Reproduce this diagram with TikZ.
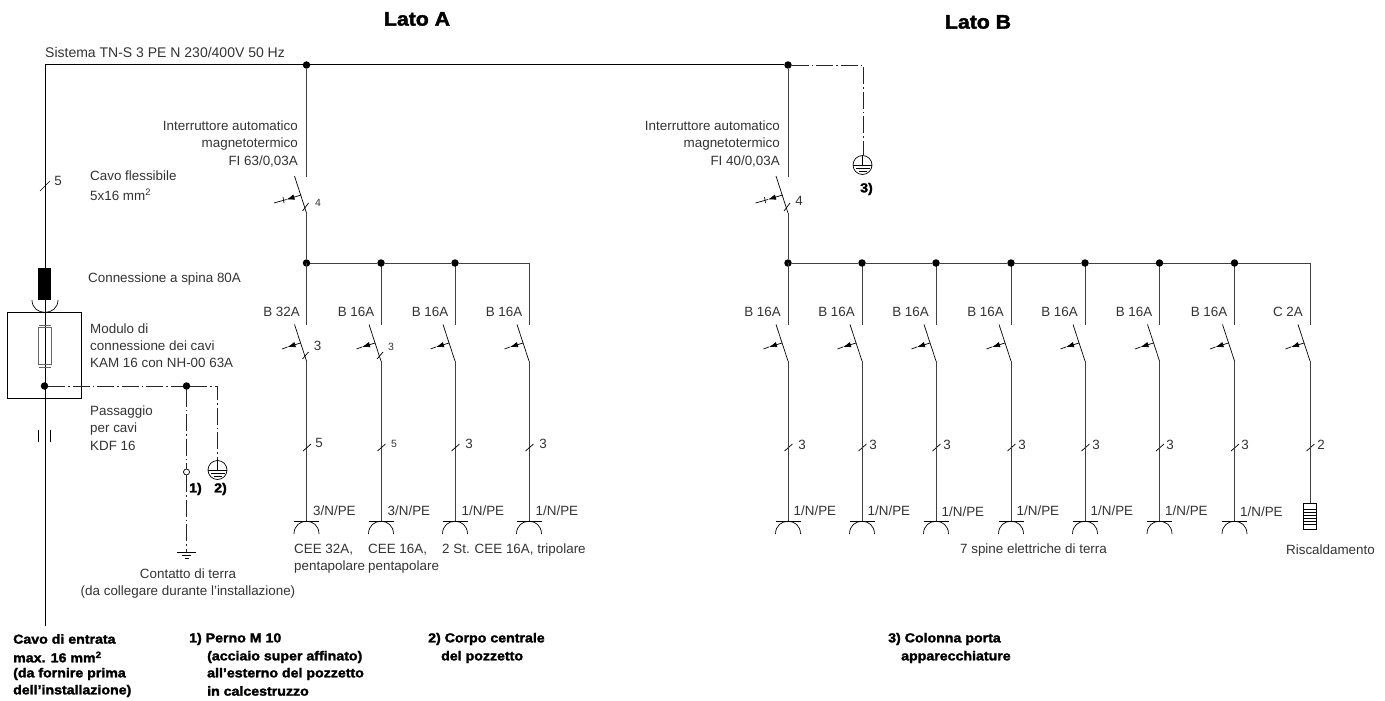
\documentclass[tikz,border=0pt]{standalone}
\usepackage{fontspec}
\setmainfont{Liberation Sans}
\newfontfamily\heavyfont[BoldFeatures={FakeBold=2,FakeStretch=1.09}]{Liberation Sans}
\usetikzlibrary{arrows.meta}
\tikzset{
    wire/.style={draw=black!75,line width=0.9pt},
    bluntwire/.style={draw=black,line width=0.7pt},
    earthwire/.style={draw=black!85,line width=0.8pt,dash pattern=on 17pt off 3pt on 1.5pt off 3pt},
    junction/.style={circle,fill=black,inner sep=0pt,minimum size=7.5pt},
    lbl/.style={inner sep=0pt,text=black!80,font=\fontsize{13.4}{16}\selectfont},
    lblleft/.style={lbl,anchor=west},
    lblright/.style={lbl,anchor=east},
    count/.style={lbl,font=\fontsize{13.4}{16}\selectfont},
    smallcount/.style={lbl,font=\fontsize{10.5}{12}\selectfont},
    note/.style={inner sep=0pt,anchor=west,font=\fontsize{13}{16}\heavyfont\bfseries},
    heading/.style={inner sep=0pt,font=\fontsize{19.5}{22}\heavyfont\bfseries},
    handletip/.style={bluntwire,-{Latex[length=8pt,width=5.5pt]}}
}
\begin{document}
\begin{tikzpicture}[x=1pt,y=-1pt]
    \useasboundingbox (0,0) rectangle (1385,701);

    % supply line
    \coordinate (inlet) at (45,65);
    \coordinate (cableend) at (45,626);
    \coordinate (earthB) at (863,65);
    \node[junction] (busA) at (306.5,65) {};
    \node[junction] (busB) at (788,65) {};
    \draw[bluntwire,line width=1pt] (inlet) -- (busA) -- (busB);
    \draw[bluntwire] (inlet) -- (cableend);
    \draw[earthwire] (busB) -- (earthB) -- (863,155);
    \draw[bluntwire] (40,191) -- (50,181); % tick on cable

    % plug, module and fuse
    \node[fill=black,minimum width=13pt,minimum height=32pt,inner sep=0pt] (plug) at (44.5,284) {};
    \draw[bluntwire] (32,300) .. controls (32,316.5) and (58,316.5) .. (58,300);
    \draw[bluntwire] (7.5,312) rectangle (81.5,398.5);
    \draw[draw=black!60,line width=0.9pt] (38.5,327) rectangle (51,364);
    \draw[draw=black!60,line width=0.9pt] (38.5,325) -- (51,325);
    \draw[draw=black!60,line width=0.9pt] (38.5,367) -- (51,367);
    \draw[bluntwire] (38.5,430) -- (38.5,442);
    \draw[bluntwire] (50.5,430) -- (50.5,442);

    % earth branches
    \node[junction] (modj) at (44.5,386) {};
    \node[junction] (earthj) at (186.5,386) {};
    \coordinate (earthc) at (217.5,386);
    \node[circle,draw=black,line width=0.7pt,fill=white,inner sep=0pt,minimum size=6pt] (perno) at (186.5,472) {};
    \coordinate (gnd) at (186.5,552);
    \draw[earthwire] (modj) -- (earthj);
    \draw[earthwire] (earthj) -- (earthc) -- (217.5,460);
    \draw[earthwire] (earthj) -- (perno);
    \draw[earthwire] (perno) -- (gnd);
    \draw[bluntwire] (177,552) -- (196,552);
    \draw[bluntwire] (182,555.5) -- (191,555.5);
    \draw[bluntwire] (184.5,558.5) -- (188.5,558.5);

    % earth symbols
    \foreach \n/\x/\y in {a/217.5/470,b/862.5/165}{
        \node[circle,draw=black,line width=0.7pt,inner sep=0pt,minimum size=19pt] (pe\n) at (\x,\y) {};
        \draw[bluntwire] (\x,\y-9.5) -- (\x,\y);
        \draw[bluntwire] (\x-9.5,\y) -- (\x+9.5,\y);
        \draw[bluntwire] (\x-7,\y+3.5) -- (\x+7,\y+3.5);
        \draw[bluntwire] (\x-4,\y+6.5) -- (\x+4,\y+6.5);
    }

    % main breakers
    \foreach \n/\x in {A/306.5,B/788}{
        \coordinate (maintop\n) at (\x,177);
        \coordinate (mainpiv\n) at (\x,213);
        \node[junction] (rail\n) at (\x,263) {};
        \draw[wire] (bus\n) -- (maintop\n);
        \draw[wire] (rail\n) -- (mainpiv\n);
        \draw[bluntwire] (mainpiv\n) -- (\x-12,176);
        \draw[bluntwire] (\x-4,211) -- (\x+2,203); % pole tick
        \draw[handletip] (\x-5.5,195) -- (\x-20,199.5);
        \draw[bluntwire] (\x-20,199.5) -- (\x-32.5,203);
        \draw[bluntwire] (\x-23.5,197) -- (\x-22.5,203);
    }

    % side A outgoing lines
    \foreach \n/\x/\fuse/\cores/\pole in {1/306.5/B 32A/5/{3/N/PE},2/381/B 16A/5/{3/N/PE},3/455/B 16A/3/{1/N/PE},4/529/B 16A/3/{1/N/PE}}{
        \coordinate (railA\n) at (\x,263);
        \coordinate (topA\n) at (\x,324.5);
        \coordinate (pivA\n) at (\x,361);
        \coordinate (sockA\n) at (\x,521.5);
        \draw[wire] (railA\n) -- (topA\n);
        \draw[bluntwire] (pivA\n) -- (\x-12,324.5);
        \draw[wire] (pivA\n) -- (sockA\n);
        \draw[handletip] (\x-6,343) -- (\x-19,347);
        \draw[bluntwire] (\x-19,347) -- (\x-24.5,349);
        \draw[bluntwire] (\x-3.5,451) -- (\x+4.5,444); % cable tick
        \draw[bluntwire] (\x-12.5,521.5) -- (\x+12.5,521.5);
        \draw[bluntwire] (\x-12.5,534) .. controls (\x-12.5,517) and (\x+12.5,517) .. (\x+12.5,534);
        \node[lblright] (fuseA\n) at (\x-6.5,312) {\fuse};
        \node[lblleft] (poleA\n) at (\x+6.5,511) {\pole};
    }
    \node[junction] (railAb) at (381,263) {};
    \node[junction] (railAc) at (455,263) {};
    \draw[wire] (railA) -- (railAb) -- (railAc) -- (railA4);
    \draw[bluntwire] (302.5,359) -- (308.5,352); % pole ticks
    \draw[bluntwire] (377,359) -- (383,352);
    \node[count] (polesA1) at (317.5,346) {3};
    \node[smallcount] (polesA2) at (391,347) {3};
    \node[count] (coresA1) at (319,443) {5};
    \node[smallcount] (coresA2) at (394,444) {5};
    \node[count] (coresA3) at (469,444) {3};
    \node[count] (coresA4) at (543,444) {3};

    % side B outgoing lines
    \foreach \n/\x/\fuse/\ypole/\xcore in {1/788/B 16A/511/802,2/862/B 16A/511/873,3/936/B 16A/512/947,4/1011/B 16A/511/1022,5/1085/B 16A/511/1096,6/1159.5/B 16A/511/1170,7/1234.5/B 16A/512/1245,8/1310/C 2A/0/1321}{
        \coordinate (railB\n) at (\x,263);
        \coordinate (topB\n) at (\x,324.5);
        \coordinate (pivB\n) at (\x,361);
        \coordinate (sockB\n) at (\x,521.5);
        \draw[wire] (railB\n) -- (topB\n);
        \draw[bluntwire] (pivB\n) -- (\x-12,324.5);
        \draw[handletip] (\x-6,343) -- (\x-19,347);
        \draw[bluntwire] (\x-19,347) -- (\x-24.5,349);
        \draw[bluntwire] (\x-3.5,451) -- (\x+4.5,444); % cable tick
        \node[lblright] (fuseB\n) at (\x-7,312) {\fuse};
        \node[count] (coresB\n) at (\xcore,445) {\ifnum\n=8 2\else 3\fi};
        \ifnum\n<8
            \draw[wire] (pivB\n) -- (sockB\n);
            \draw[bluntwire] (\x-12.5,521.5) -- (\x+12.5,521.5);
            \draw[bluntwire] (\x-12.5,534) .. controls (\x-12.5,517) and (\x+12.5,517) .. (\x+12.5,534);
            \node[lblleft] (poleB\n) at (\x+5.5,\ypole) {1/N/PE};
        \fi
    }
    \node[junction] (railBb) at (862,263) {};
    \node[junction] (railBc) at (936,263) {};
    \node[junction] (railBd) at (1011,263) {};
    \node[junction] (railBe) at (1085,263) {};
    \node[junction] (railBf) at (1159.5,263) {};
    \node[junction] (railBg) at (1234.5,263) {};
    \draw[wire] (railB) -- (railBb) -- (railBc) -- (railBd) -- (railBe) -- (railBf) -- (railBg) -- (railB8);

    % heater
    \node[draw=black,line width=0.7pt,minimum width=13.5pt,minimum height=26pt,inner sep=0pt] (heater) at (1310,516) {};
    \draw[wire] (pivB8) -- (heater);
    \foreach \y in {509,512,515,518,521,524}{
        \draw[bluntwire] (1303.5,\y) -- (1316.5,\y);
    }

    % headings
    \node[heading] (latoa) at (417,19) {Lato A};
    \node[heading] (latob) at (978,22) {Lato B};

    % labels on the left
    \node[lblleft,font=\fontsize{14}{16}\selectfont] (sistema) at (45,52) {Sistema TN-S 3 PE N 230/400V 50 Hz};
    \node[count] (cablecores) at (58,181) {5};
    \node[lblleft] (cavoa) at (90,176) {Cavo flessibile};
    \node[lblleft] (cavob) at (90,195) {5x16 mm\textsuperscript{2}};
    \node[lblleft] (spina) at (88,279) {Connessione a spina 80A};
    \node[lblleft] (moda) at (90,329) {Modulo di};
    \node[lblleft] (modb) at (90,346) {connessione dei cavi};
    \node[lblleft] (modc) at (90,363) {KAM 16 con NH-00 63A};
    \node[lblleft] (passa) at (90,412) {Passaggio};
    \node[lblleft] (passb) at (90,429) {per cavi};
    \node[lblleft] (passc) at (90,446) {KDF 16};
    \node[note] (refone) at (189,489) {1)};
    \node[note] (reftwo) at (214,489) {2)};
    \node[note] (refthree) at (860,189) {3)};
    \node[lbl] (terraa) at (188,574) {Contatto di terra};
    \node[lbl] (terrab) at (188,592) {(da collegare durante l’installazione)};

    % breaker labels
    \node[lblright] (fia) at (298,126) {Interruttore automatico};
    \node[lblright] (fib) at (298,144) {magnetotermico};
    \node[lblright] (fic) at (298,161.5) {FI 63/0,03A};
    \node[smallcount] (mainpolesA) at (318,203) {4};
    \node[lblright] (fid) at (780,126) {Interruttore automatico};
    \node[lblright] (fie) at (780,144) {magnetotermico};
    \node[lblright] (fif) at (780,161.5) {FI 40/0,03A};
    \node[count] (mainpolesB) at (799,201) {4};

    % socket labels
    \node[lblleft] (ceea) at (294,550) {CEE 32A,};
    \node[lblleft] (ceeb) at (294,567) {pentapolare};
    \node[lblleft] (ceec) at (368,550) {CEE 16A,};
    \node[lblleft] (ceed) at (368,567) {pentapolare};
    \node[lblleft] (ceee) at (442,550) {2 St. CEE 16A, tripolare};
    \node[lbl] (spine) at (1033.5,550) {7 spine elettriche di terra};
    \node[lbl] (riscald) at (1330.5,550) {Riscaldamento};

    % notes at the bottom
    \node[note] (entrataa) at (13,639) {Cavo di entrata};
    \node[note] (entratab) at (13,657) {max. 16 mm\textsuperscript{2}};
    \node[note] (entratac) at (13,674) {(da fornire prima};
    \node[note] (entratad) at (13,691) {dell’installazione)};
    \node[note] (pernoa) at (189,639) {1) Perno M 10};
    \node[note] (pernob) at (207,657) {(acciaio super affinato)};
    \node[note] (pernoc) at (207,674) {all’esterno del pozzetto};
    \node[note] (pernod) at (207,691) {in calcestruzzo};
    \node[note] (corpoa) at (428,639) {2) Corpo centrale};
    \node[note] (corpob) at (441,657) {del pozzetto};
    \node[note] (colonnaa) at (888,639) {3) Colonna porta};
    \node[note] (colonnab) at (901,657) {apparecchiature};
\end{tikzpicture}
\end{document}
